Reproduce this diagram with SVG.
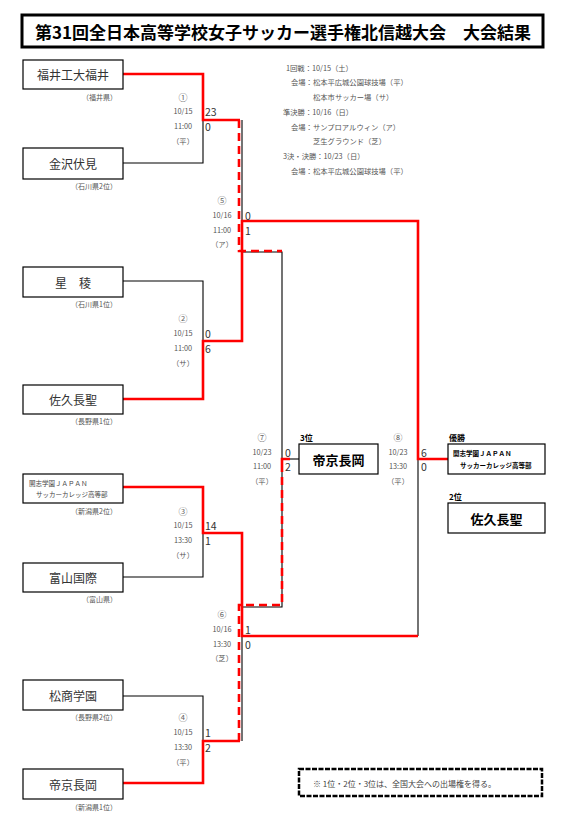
<svg xmlns="http://www.w3.org/2000/svg" width="575" height="815" viewBox="0 0 575 815">
<style>
text{font-family:"Noto Sans CJK JP","Noto Sans",sans-serif;}
.box{fill:#fff;stroke:#000;stroke-width:1.2;}
.nm{font-size:12px;fill:#333;text-anchor:middle;dominant-baseline:central;}
.nmb{font-size:13px;font-weight:bold;fill:#000;text-anchor:middle;dominant-baseline:central;}
.sm{font-size:6.5px;fill:#444;dominant-baseline:central;}
.pref{font-size:7px;fill:#555;text-anchor:end;dominant-baseline:central;}
.ml{font-size:7.3px;fill:#555;text-anchor:middle;dominant-baseline:central;}
.cn{font-size:9px;fill:#666;text-anchor:middle;dominant-baseline:central;}
.sc{font-size:10.5px;fill:#333;dominant-baseline:central;}
.info{font-size:7.3px;fill:#555;dominant-baseline:central;}
.lab{font-size:8px;font-weight:bold;fill:#000;dominant-baseline:central;}
.bk{fill:none;stroke:#000;stroke-width:1.1;}
.rd{fill:none;stroke:#f00;stroke-width:2.6;}
.rdd{fill:none;stroke:#f00;stroke-width:2.6;stroke-dasharray:8 5;}
</style>

<g id="title">
<rect x="22" y="15" width="521" height="32" fill="#fff" stroke="#000" stroke-width="3"/>
<text x="283" y="31.5" font-size="17" font-weight="bold" text-anchor="middle" dominant-baseline="central" fill="#000">第31回全日本高等学校女子サッカー選手権北信越大会　大会結果</text>
</g>

<g id="info">
<text class="info" x="286" y="67.5">1回戦：10/15（土）</text>
<text class="info" x="291" y="82">会場：松本平広城公園球技場（平）</text>
<text class="info" x="313" y="97">松本市サッカー場（サ）</text>
<text class="info" x="283" y="112">準決勝：10/16（日）</text>
<text class="info" x="291" y="126.5">会場：サンプロアルウィン（ア）</text>
<text class="info" x="313" y="141">芝生グラウンド（芝）</text>
<text class="info" x="283" y="156">3決・決勝：10/23（日）</text>
<text class="info" x="291" y="171">会場：松本平広城公園球技場（平）</text>
</g>

<g id="connectors">
<polyline class="bk" points="123,163 203,163 203,120"/>
<polyline class="bk" points="242,120 242,222"/>
<polyline class="bk" points="242,252 282,252 282,607 242,607 242,741"/>
<polyline class="bk" points="282,459 299,459"/>
<polyline class="bk" points="418,459 418,636"/>
<polyline class="bk" points="123,281 203,281 203,341"/>
<polyline class="bk" points="123,577 203,577 203,533"/>
<polyline class="bk" points="123,696 203,696 203,741"/>
<polyline class="rd" points="123,74 203,74 203,120 240,120"/>
<polyline class="rdd" points="239,120 239,251 282,251"/>
<polyline class="rd" points="123,399 203,399 203,341 242,341 242,221 418,221 418,459 448,459"/>
<polyline class="rd" points="123,487 203,487 203,533 242,533 242,636 418,636"/>
<polyline class="rd" points="123,783 203,783 203,741 240,741"/>
<polyline class="rdd" points="239,741 239,605 282,605 282,467"/>
<polyline class="rd" points="282,467 282,459 290,459"/>
</g>

<g id="team-fukui">
<rect class="box" x="23" y="60" width="100" height="29"/>
<text class="nm" x="73" y="74.5">福井工大福井</text>
<text class="pref" x="117" y="97">（福井県）</text>
</g>
<g id="team-kanazawa">
<rect class="box" x="23" y="148" width="100" height="31"/>
<text class="nm" x="73" y="163.5">金沢伏見</text>
<text class="pref" x="117" y="186">（石川県2位）</text>
</g>
<g id="team-seiryo">
<rect class="box" x="23" y="267" width="100" height="30"/>
<text class="nm" x="73" y="282">星　稜</text>
<text class="pref" x="117" y="304">（石川県1位）</text>
</g>
<g id="team-saku">
<rect class="box" x="23" y="385" width="100" height="29"/>
<text class="nm" x="73" y="399.5">佐久長聖</text>
<text class="pref" x="117" y="421">（長野県1位）</text>
</g>
<g id="team-kaishi">
<rect class="box" x="23" y="474" width="100" height="29"/>
<text class="sm" x="29" y="483">開志学園ＪＡＰＡＮ</text>
<text class="sm" x="36" y="494">サッカーカレッジ高等部</text>
<text class="pref" x="117" y="511">（新潟県2位）</text>
</g>
<g id="team-toyama">
<rect class="box" x="23" y="563" width="100" height="29"/>
<text class="nm" x="73" y="577.5">富山国際</text>
<text class="pref" x="117" y="599">（富山県）</text>
</g>
<g id="team-matsusho">
<rect class="box" x="23" y="680" width="100" height="30"/>
<text class="nm" x="73" y="695">松商学園</text>
<text class="pref" x="117" y="717">（長野県2位）</text>
</g>
<g id="team-teikyo">
<rect class="box" x="23" y="769" width="100" height="30"/>
<text class="nm" x="73" y="784">帝京長岡</text>
<text class="pref" x="117" y="807">（新潟県1位）</text>
</g>

<g id="match1">
<text class="cn" x="183" y="97">①</text><text class="ml" x="183" y="111">10/15</text><text class="ml" x="183" y="126">11:00</text><text class="ml" x="183" y="141">（平）</text>
<text class="sc" x="205" y="111">23</text><text class="sc" x="205" y="126">0</text>
</g>
<g id="match2">
<text class="cn" x="183" y="318">②</text><text class="ml" x="183" y="333">10/15</text><text class="ml" x="183" y="348">11:00</text><text class="ml" x="183" y="363">（サ）</text>
<text class="sc" x="205" y="333">0</text><text class="sc" x="205" y="348">6</text>
</g>
<g id="match3">
<text class="cn" x="183" y="511">③</text><text class="ml" x="183" y="525">10/15</text><text class="ml" x="183" y="540">13:30</text><text class="ml" x="183" y="555">（サ）</text>
<text class="sc" x="205" y="525">14</text><text class="sc" x="205" y="540">1</text>
</g>
<g id="match4">
<text class="cn" x="183" y="717">④</text><text class="ml" x="183" y="732">10/15</text><text class="ml" x="183" y="747">13:30</text><text class="ml" x="183" y="762">（平）</text>
<text class="sc" x="205" y="732">1</text><text class="sc" x="205" y="747">2</text>
</g>
<g id="match5">
<text class="cn" x="222" y="200">⑤</text><text class="ml" x="222" y="215">10/16</text><text class="ml" x="222" y="230">11:00</text><text class="ml" x="222" y="244">（ア）</text>
<text class="sc" x="245" y="215">0</text><text class="sc" x="245" y="230">1</text>
</g>
<g id="match6">
<text class="cn" x="222" y="614">⑥</text><text class="ml" x="222" y="629">10/16</text><text class="ml" x="222" y="644">13:30</text><text class="ml" x="222" y="658">（芝）</text>
<text class="sc" x="245" y="629">1</text><text class="sc" x="245" y="644">0</text>
</g>
<g id="match7">
<text class="cn" x="262" y="437">⑦</text><text class="ml" x="262" y="452">10/23</text><text class="ml" x="262" y="466">11:00</text><text class="ml" x="262" y="481">（平）</text>
<text class="sc" x="285" y="452">0</text><text class="sc" x="285" y="466">2</text>
</g>
<g id="match8">
<text class="cn" x="398" y="437">⑧</text><text class="ml" x="398" y="452">10/23</text><text class="ml" x="398" y="466">13:30</text><text class="ml" x="398" y="481">（平）</text>
<text class="sc" x="421" y="452">6</text><text class="sc" x="421" y="466">0</text>
</g>

<g id="third">
<text class="lab" x="300" y="437">3位</text>
<rect class="box" x="299" y="444" width="79" height="30"/>
<text class="nmb" x="338.5" y="459">帝京長岡</text>
</g>
<g id="champion">
<text class="lab" x="449" y="437">優勝</text>
<rect class="box" x="448" y="444" width="97" height="30"/>
<text x="453" y="453" font-size="6.5" font-weight="bold" fill="#000" dominant-baseline="central">開志学園ＪＡＰＡＮ</text>
<text x="460" y="465" font-size="6.5" font-weight="bold" fill="#000" dominant-baseline="central">サッカーカレッジ高等部</text>
</g>
<g id="second">
<text class="lab" x="449" y="496">2位</text>
<rect class="box" x="448" y="503" width="97" height="30"/>
<text class="nmb" x="496.5" y="518">佐久長聖</text>
</g>

<g id="note">
<rect x="299" y="769" width="243" height="27" fill="#fff" stroke="#000" stroke-width="2.5" stroke-dasharray="5 1.5"/>
<text x="313" y="783" font-size="8" fill="#444" dominant-baseline="central">※ 1位・2位・3位は、全国大会への出場権を得る。</text>
</g>
</svg>
